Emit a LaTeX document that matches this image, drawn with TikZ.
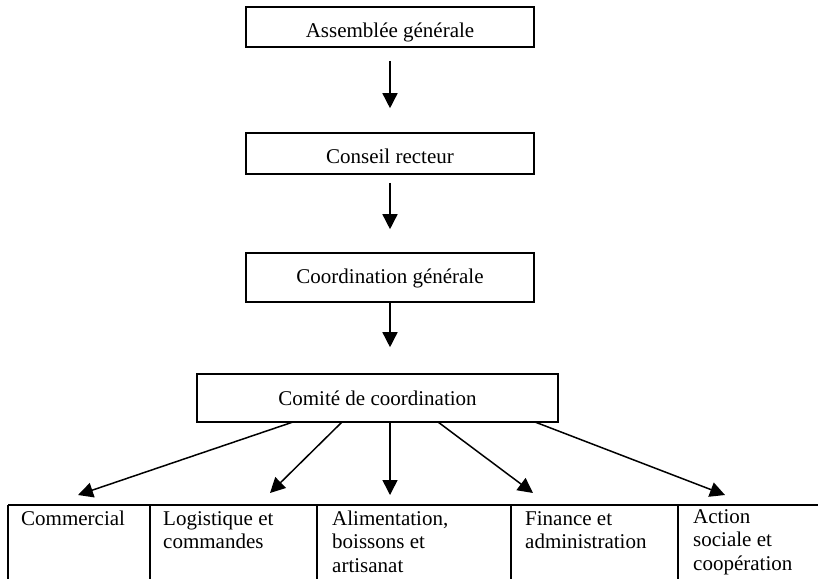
\documentclass[tikz,border=0pt]{standalone}
\usepackage{fontspec}
\setmainfont{Liberation Serif}
\usetikzlibrary{arrows.meta}
\begin{document}
\begin{tikzpicture}[x=1pt,y=-1pt,
  orgbox/.style={draw, line width=1.6pt, minimum width=288pt, inner sep=0pt, text depth=0pt, font=\fontsize{21}{24}\selectfont},
  arr/.style={line width=1.5pt, -{Triangle[length=15pt,width=15pt]}},
  cell/.style={anchor=base west, inner sep=0pt, font=\fontsize{21}{23.5}\selectfont},
  tline/.style={line width=1.8pt}]
\useasboundingbox (0,0) rectangle (818,579);
% hierarchy boxes
\node[orgbox, minimum height=40pt, text height=20pt] (ag) at (390,27) {Assemblée générale};
\node[orgbox, minimum height=41pt, text height=19pt] (cr) at (390,153.5) {Conseil recteur};
\node[orgbox, minimum height=49pt, text height=11pt] (cg) at (390,277.5) {Coordination générale};
\node[orgbox, minimum width=361pt, minimum height=48pt, text height=14pt] (cc) at (377.5,398) {Comité de coordination};
% vertical arrows
\draw[arr, shorten <=13pt, shorten >=24pt] (ag) -- (cr);
\draw[arr, shorten <=8pt, shorten >=23pt] (cr) -- (cg);
\draw[arr, shorten >=26pt] (cg.south) -- (cg.south |- cc.north);
% fan-out start and end points
\coordinate (s1) at (293,422);
\coordinate (s2) at (342,422);
\coordinate (s3) at (390,422);
\coordinate (s4) at (438,422);
\coordinate (s5) at (535,422);
\coordinate (t1) at (78,495);
\coordinate (t2) at (270,493);
\coordinate (t3) at (390,495);
\coordinate (t4) at (533,493);
\coordinate (t5) at (725,495);
\foreach \i in {1,...,5} {\draw[arr] (s\i) -- (t\i);}
% table lines
\draw[tline] (8,505) -- (818,505);
\foreach \xx in {8,150,317,511,678} {\draw[tline] (\xx,505) -- (\xx,579);}
% table cells
\node[cell] (c1) at (21,525) {Commercial};
\node[cell] (c2) at (163,525) {\begin{tabular}[t]{@{}l@{}}Logistique et\\commandes\end{tabular}};
\node[cell] (c3) at (332,525) {\begin{tabular}[t]{@{}l@{}}Alimentation,\\boissons et\\artisanat\end{tabular}};
\node[cell] (c4) at (525,525) {\begin{tabular}[t]{@{}l@{}}Finance et\\administration\end{tabular}};
\node[cell] (c5) at (693,523) {\begin{tabular}[t]{@{}l@{}}Action\\sociale et\\coopération\end{tabular}};
\end{tikzpicture}
\end{document}
